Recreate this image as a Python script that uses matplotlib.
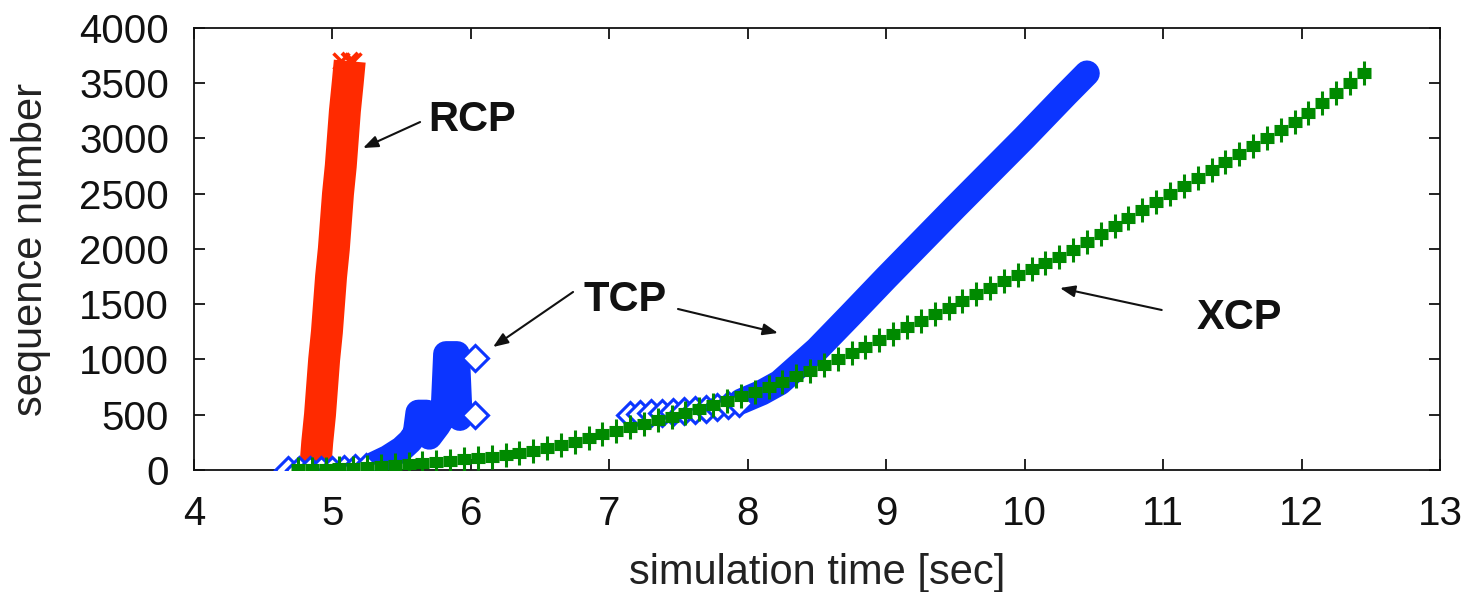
import numpy as np
import matplotlib
matplotlib.use("Agg")
import matplotlib.pyplot as plt

RED, BLUE, GREEN, INK = "#ff2a00", "#0c35ff", "#008a00", "#111111"
plt.rcParams.update({"font.family": ["Liberation Sans", "DejaVu Sans"]})

# RCP: one dense burst of packets
rcp_t = [4.875, 4.89, 4.91, 4.925, 4.94, 4.96, 4.975, 4.99, 5.01, 5.025, 5.04, 5.06, 5.075, 5.09, 5.11, 5.125]
rcp_seq = [0, 250, 500, 750, 1000, 1250, 1500, 1750, 2000, 2250, 2500, 2750, 3000, 3250, 3500, 3700]
rcp_edge_t = [4.70, 4.78, 5.06, 5.15]
rcp_edge_seq = [0, 0, 3700, 3700]

# TCP: dense stretches (drawn as a band) and the sparse points
tcp_dense_t = [5.30, 5.40, 5.50, 5.56, 5.60, 5.62, 5.68, 5.70, 5.76, 5.80, 5.82, 5.90, 5.92, np.nan,
               7.95, 8.10, 8.23, 8.50, 8.74, 9.00, 9.50, 10.00, 10.30, 10.45]
tcp_dense_seq = [50, 110, 190, 260, 330, 520, 520, 300, 400, 480, 1050, 1050, 470, np.nan,
                 620, 700, 790, 1090, 1400, 1740, 2380, 3010, 3400, 3590]
tcp_pts_t = [4.68, 4.76, 4.84, 4.92, 5.00, 5.08, 5.16, 5.24, 6.03, 6.03,
             7.15, 7.22, 7.30, 7.38, 7.46, 7.54, 7.62, 7.70, 7.78, 7.86, 7.94]
tcp_pts_seq = [0, 0, 0, 0, 0, 5, 15, 30, 1013, 498,
               500, 505, 512, 518, 525, 533, 545, 555, 568, 585, 605]

# XCP: one sample every 0.1 s
xcp_t = [4.75, 4.85, 4.95, 5.05, 5.15, 5.25, 5.35, 5.45, 5.55, 5.65, 5.75, 5.85, 5.95,
         6.05, 6.15, 6.25, 6.35, 6.45, 6.55, 6.65, 6.75, 6.85, 6.95,
         7.05, 7.15, 7.25, 7.35, 7.45, 7.55, 7.65, 7.75, 7.85, 7.95,
         8.05, 8.15, 8.25, 8.35, 8.45, 8.55, 8.65, 8.75, 8.85, 8.95,
         9.05, 9.15, 9.25, 9.35, 9.45, 9.55, 9.65, 9.75, 9.85, 9.95,
         10.05, 10.15, 10.25, 10.35, 10.45, 10.55, 10.65, 10.75, 10.85, 10.95,
         11.05, 11.15, 11.25, 11.35, 11.45, 11.55, 11.65, 11.75, 11.85, 11.95,
         12.05, 12.15, 12.25, 12.35, 12.45]
xcp_seq = [5, 8, 12, 17, 22, 28, 35, 43, 52, 62, 73, 84, 95,
           106, 119, 135, 155, 175, 198, 225, 255, 288, 322,
           356, 387, 418, 449, 480, 514, 552, 590, 628, 666,
           705, 750, 795, 847, 899, 952, 1006, 1060, 1116, 1172,
           1230, 1290, 1350, 1410, 1470, 1530, 1590, 1650, 1710, 1765,
           1820, 1870, 1925, 1995, 2065, 2135, 2210, 2280, 2352, 2424,
           2496, 2568, 2640, 2712, 2784, 2856, 2928, 3000, 3074, 3150,
           3235, 3320, 3410, 3500, 3590]

fig = plt.figure(figsize=(14.81, 5.92), dpi=100)
ax = fig.add_axes([0.131, 0.2061, 0.8413, 0.7466])

# RCP
ax.plot(rcp_t, rcp_seq, color=RED, lw=23, solid_capstyle="butt", zorder=2)
ax.plot(rcp_t, rcp_seq, ls="none", marker="x", ms=12, mew=3, color=RED, zorder=2)
ax.plot(rcp_edge_t, rcp_edge_seq, ls="none", marker="x", ms=11, mew=2.5, color=RED, zorder=2)

# TCP
ax.plot(tcp_dense_t, tcp_dense_seq, color=BLUE, lw=18.5, solid_capstyle="round",
        solid_joinstyle="round", zorder=3)
ax.plot(tcp_pts_t, tcp_pts_seq, ls="none", marker="D", ms=13, mew=2.2,
        mfc="white", mec=BLUE, zorder=3)

# XCP: plus marks whose flat arms merge into a stepped band
ax.plot(xcp_t, xcp_seq, ls="none", marker="_", ms=10.5, mew=8, color=GREEN, zorder=4)
ax.plot(xcp_t, xcp_seq, ls="none", marker="|", ms=17, mew=2.2, color=GREEN, zorder=4)

ax.set_xlim(4, 13)
ax.set_ylim(0, 4000)
ax.set_xticks(range(4, 14))
ax.set_yticks(range(0, 4001, 500))
ax.tick_params(direction="in", top=True, right=True, length=8, width=1.3,
               labelsize=29, colors=INK, pad=18)
ax.tick_params(axis="y", pad=18)
for s in ax.spines.values():
    s.set_linewidth(1.3)
    s.set_color(INK)

ax.set_xlabel("simulation time [sec]", fontsize=30, color="#222222")
ax.xaxis.label.set_va("center")
ax.xaxis.set_label_coords(0.5, -0.232)
ax.set_ylabel("sequence number", fontsize=30, color="#222222")
ax.yaxis.label.set_va("center")
ax.yaxis.set_label_coords(-0.131, 0.5)

arrow = dict(arrowstyle="-|>,head_length=0.9,head_width=0.35", color=INK, lw=1.5,
             shrinkA=0, shrinkB=0)
lab = dict(fontsize=30, fontweight="bold", color=INK, ha="left", va="center")
ax.text(5.69, 3167, "RCP", **lab)
ax.annotate("", xy=(5.221, 2914), xytext=(5.633, 3149), arrowprops=arrow)
ax.text(6.81, 1538, "TCP", **lab)
ax.annotate("", xy=(6.16, 1113), xytext=(6.738, 1611), arrowprops=arrow)
ax.annotate("", xy=(8.218, 1240), xytext=(7.496, 1457), arrowprops=arrow)
ax.text(11.245, 1376, "XCP", **lab)
ax.annotate("", xy=(10.255, 1647), xytext=(10.99, 1448), arrowprops=arrow)

fig.savefig("out.png", dpi=100)
